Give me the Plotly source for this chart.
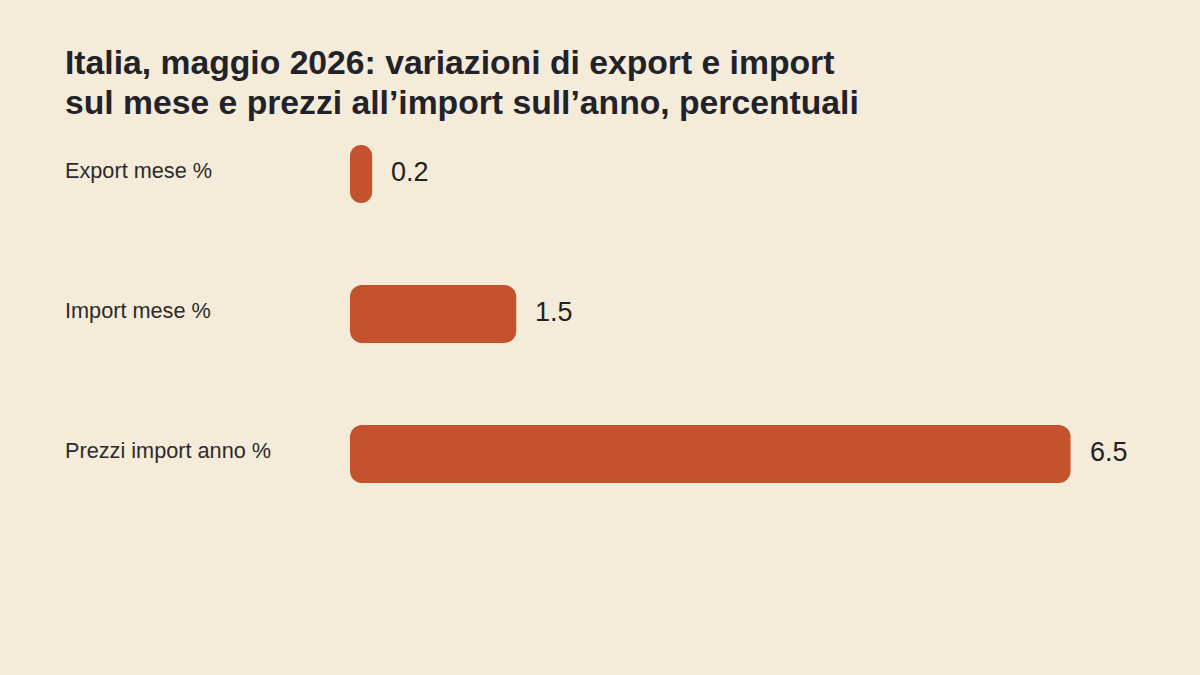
import plotly.graph_objects as go

categories = ["Export mese %", "Import mese %", "Prezzi import anno %"]
values = [0.2, 1.5, 6.5]
value_labels = ["0.2", "1.5", "6.5"]
bases = [0, 0, 0]

title_lines = ["Italia, maggio 2026: variazioni di export e import",
               "sul mese e prezzi all\u2019import sull\u2019anno, percentuali"]

BG = "#F5EBD9"
BAR = "#C4532D"
FONT = "Liberation Sans, Arial, sans-serif"

W, H = 1200, 675
ML, MR, MT, MB = 350, 74, 104, 151
plot_w = W - ML - MR
plot_h = H - MT - MB

fig = go.Figure()
fig.add_trace(go.Bar(x=values, base=bases, y=categories, orientation="h",
                     marker=dict(color=BAR, cornerradius=12, line=dict(width=0)),
                     hoverinfo="skip"))

# value labels right of each bar
for cat, v, lab in zip(categories, values, value_labels):
    fig.add_annotation(x=v, y=cat, text=lab, showarrow=False,
                       xanchor="left", yanchor="middle", xshift=17, yshift=2,
                       font=dict(family=FONT, size=27, color="#222222"))

# category labels, left aligned at the page margin
for cat in categories:
    fig.add_annotation(x=-(ML - 63) / plot_w, xref="paper", y=cat, text=cat,
                       showarrow=False, xanchor="left", yanchor="middle",
                       yshift=4, font=dict(family=FONT, size=21.7, color="#2b2b2b"))

# two-line title, placed line by line to get the tighter leading
for line, ypx in zip(title_lines, [62, 102]):
    fig.add_annotation(x=-(ML - 63) / plot_w, xref="paper",
                       y=(H - MB - ypx) / plot_h, yref="paper",
                       text="<b>" + line + "</b>", showarrow=False,
                       xanchor="left", yanchor="middle",
                       font=dict(family=FONT, size=33.7, color="#22232a"))

fig.update_layout(
    width=W, height=H,
    paper_bgcolor=BG, plot_bgcolor=BG,
    margin=dict(l=ML, r=MR, t=MT, b=MB),
    bargap=1 - 58 / 140,
    showlegend=False,
    font=dict(family=FONT, color="#222222"),
)
fig.update_xaxes(range=[0, 7], visible=False, fixedrange=True)
fig.update_yaxes(categoryorder="array", categoryarray=categories,
                 autorange="reversed", visible=False, fixedrange=True)

fig.write_html("out.html", config={"displayModeBar": False},
               post_script="document.body.style.margin='0';")
